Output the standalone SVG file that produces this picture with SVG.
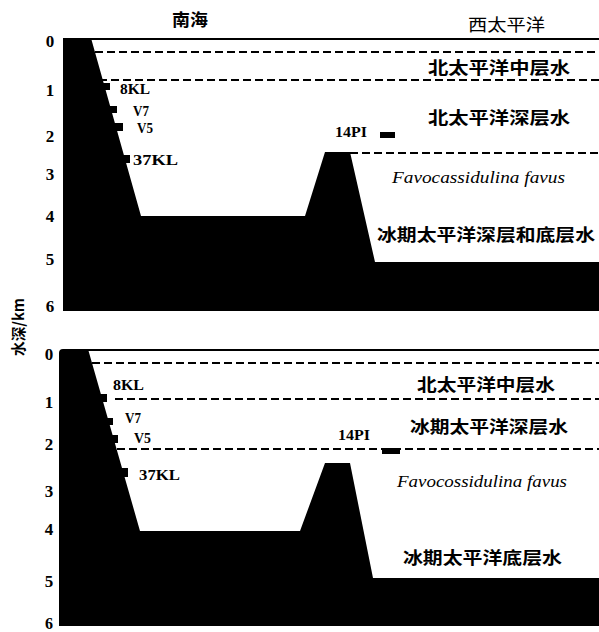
<svg xmlns="http://www.w3.org/2000/svg" width="599" height="632" viewBox="0 0 599 632">
  <style>
    .land { fill: #000; }
    .sea { stroke: #000; stroke-width: 2; fill: none; }
    .bound { stroke: #000; stroke-width: 2; fill: none; stroke-dasharray: 8 4; }
    .num { font-family: "Liberation Serif", serif; font-weight: bold; font-size: 17px; fill: #000; text-anchor: middle; }
    .core { font-family: "Liberation Serif", serif; font-weight: bold; font-size: 15px; fill: #000; }
    .water { font-family: "Noto Sans CJK SC", "Noto Sans", sans-serif; font-weight: bold; font-size: 17px; fill: #000; }
    .taxon { font-family: "Liberation Serif", serif; font-style: italic; font-size: 17px; fill: #000; }
  </style>

  <!-- region headings and depth axis title -->
  <g id="headings">
    <text class="water" x="172" y="26" textLength="36" lengthAdjust="spacingAndGlyphs">南海</text>
    <text class="water" x="468" y="31" textLength="77" lengthAdjust="spacingAndGlyphs" style="font-weight:normal">西太平洋</text>
    <text class="water" transform="translate(24 356) rotate(-90)" style="font-size:15px" textLength="58" lengthAdjust="spacingAndGlyphs">水深/km</text>
  </g>

  <!-- upper section: present-day water masses -->
  <g id="panel-modern">
    <g id="modern-depth-scale">
      <text class="num" x="50" y="47">0</text>
      <text class="num" x="50" y="96">1</text>
      <text class="num" x="50" y="142">2</text>
      <text class="num" x="50" y="180">3</text>
      <text class="num" x="50" y="222">4</text>
      <text class="num" x="50" y="265">5</text>
      <text class="num" x="50" y="312">6</text>
    </g>
    <g id="modern-seafloor">
      <path class="land" d="M63,38 L91,38 L141,216 L305,216 L325,152 L350,152 L375,262 L599,262 L599,311 L63,311 Z"/>
      <rect class="land" x="100" y="83" width="10" height="7"/>
      <rect class="land" x="109" y="106" width="8" height="7"/>
      <rect class="land" x="114" y="123" width="9" height="8"/>
      <rect class="land" x="122" y="155" width="8" height="8"/>
      <rect class="land" x="380" y="132" width="15" height="6"/>
    </g>
    <g id="modern-lines">
      <line class="sea" x1="90" y1="39" x2="599" y2="39"/>
      <line class="bound" x1="95" y1="52" x2="599" y2="52"/>
      <line class="bound" x1="99" y1="80" x2="599" y2="80"/>
      <line class="bound" x1="326" y1="153" x2="599" y2="153"/>
    </g>
    <g id="modern-cores">
      <text class="core" x="120" y="94" textLength="30" lengthAdjust="spacingAndGlyphs">8KL</text>
      <text class="core" x="133" y="116" textLength="16" lengthAdjust="spacingAndGlyphs">V7</text>
      <text class="core" x="137" y="133" textLength="16" lengthAdjust="spacingAndGlyphs">V5</text>
      <text class="core" x="133" y="165" textLength="45" lengthAdjust="spacingAndGlyphs">37KL</text>
      <text class="core" x="335" y="137" textLength="32" lengthAdjust="spacingAndGlyphs">14PI</text>
    </g>
    <g id="modern-water-masses">
      <text class="water" x="428" y="74" textLength="142" lengthAdjust="spacingAndGlyphs">北太平洋中层水</text>
      <text class="water" x="428" y="124" textLength="142" lengthAdjust="spacingAndGlyphs">北太平洋深层水</text>
      <text class="taxon" x="392" y="183" textLength="173" lengthAdjust="spacingAndGlyphs">Favocassidulina favus</text>
      <text class="water" x="377" y="241" textLength="218" lengthAdjust="spacingAndGlyphs">冰期太平洋深层和底层水</text>
    </g>
  </g>

  <!-- lower section: glacial water masses -->
  <g id="panel-glacial">
    <g id="glacial-depth-scale">
      <text class="num" x="49" y="360">0</text>
      <text class="num" x="49" y="408">1</text>
      <text class="num" x="49" y="450">2</text>
      <text class="num" x="49" y="497">3</text>
      <text class="num" x="49" y="535">4</text>
      <text class="num" x="49" y="587">5</text>
      <text class="num" x="49" y="629" style="font-size:16px">6</text>
    </g>
    <g id="glacial-seafloor">
      <path class="land" d="M59,353 Q59,349 63,349 L88,349 L140,531 L300,531 L325,463 L350,463 L373,578 L599,578 L599,626 L59,626 Z"/>
      <rect class="land" x="99" y="394" width="8" height="8"/>
      <rect class="land" x="106" y="418" width="7" height="7"/>
      <rect class="land" x="111" y="435" width="7" height="8"/>
      <rect class="land" x="120" y="468" width="8" height="9"/>
      <rect class="land" x="382" y="448" width="18" height="6"/>
    </g>
    <g id="glacial-lines">
      <line class="sea" x1="87" y1="350" x2="599" y2="350"/>
      <line class="bound" x1="92" y1="363" x2="599" y2="363"/>
      <line class="bound" x1="115" y1="399" x2="599" y2="399"/>
      <line class="bound" x1="117" y1="449" x2="599" y2="449"/>
    </g>
    <g id="glacial-cores">
      <text class="core" x="113" y="390" textLength="31" lengthAdjust="spacingAndGlyphs">8KL</text>
      <text class="core" x="125" y="423" textLength="16" lengthAdjust="spacingAndGlyphs">V7</text>
      <text class="core" x="134" y="443" textLength="17" lengthAdjust="spacingAndGlyphs">V5</text>
      <text class="core" x="139" y="480" textLength="41" lengthAdjust="spacingAndGlyphs">37KL</text>
      <text class="core" x="338" y="440" textLength="32" lengthAdjust="spacingAndGlyphs">14PI</text>
    </g>
    <g id="glacial-water-masses">
      <text class="water" x="417" y="391" textLength="138" lengthAdjust="spacingAndGlyphs">北太平洋中层水</text>
      <text class="water" x="410" y="433" textLength="158" lengthAdjust="spacingAndGlyphs">冰期太平洋深层水</text>
      <text class="taxon" x="397" y="487" textLength="170" lengthAdjust="spacingAndGlyphs">Favocossidulina favus</text>
      <text class="water" x="403" y="564" textLength="159" lengthAdjust="spacingAndGlyphs">冰期太平洋底层水</text>
    </g>
  </g>
</svg>
